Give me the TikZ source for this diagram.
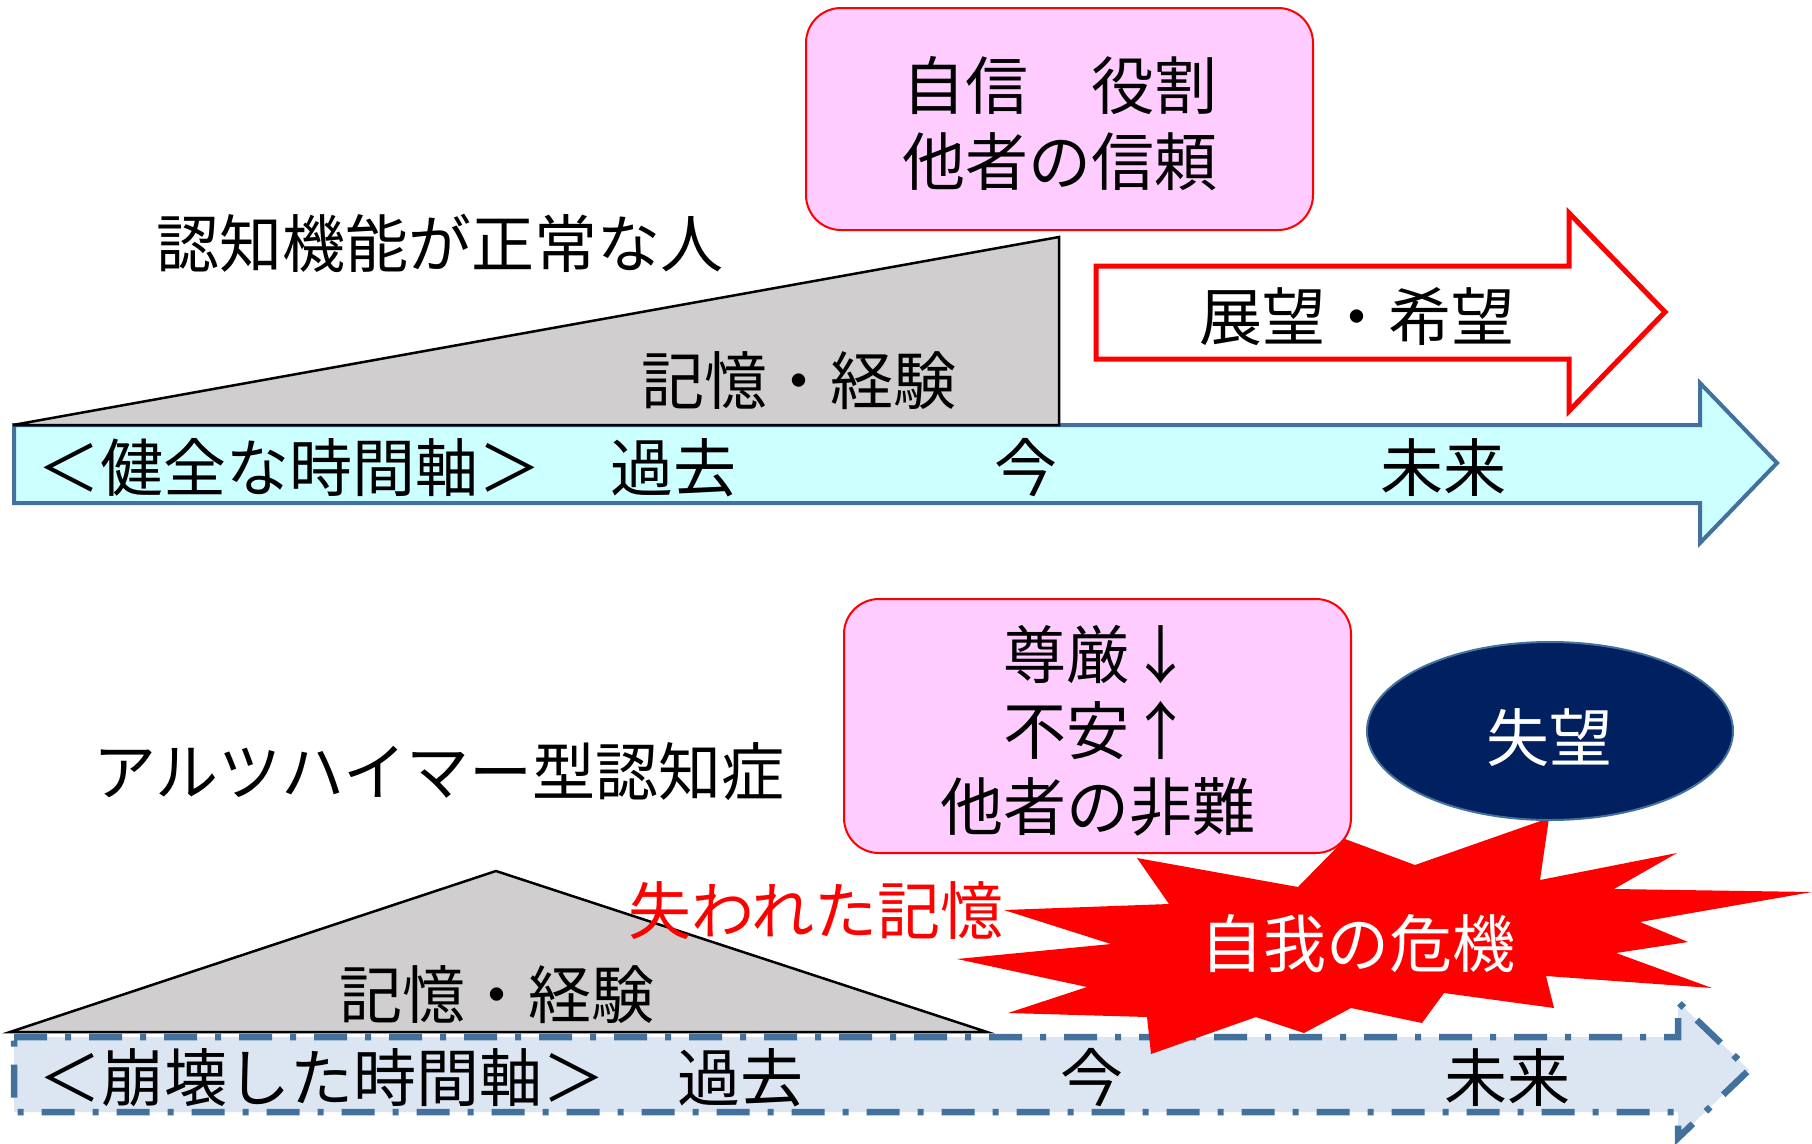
\documentclass[tikz,border=0pt]{standalone}
\usepackage{fontspec}
\setmainfont{Noto Sans CJK JP}
\usetikzlibrary{shapes.geometric}
\definecolor{axisblue}{HTML}{41719C}
\definecolor{cyanfill}{HTML}{CCFFFF}
\definecolor{pinkfill}{HTML}{FFCCFF}
\definecolor{trigray}{HTML}{D0CECE}
\definecolor{lightblue}{HTML}{DCE6F2}
\definecolor{navyfill}{HTML}{002060}
\begin{document}
\begin{tikzpicture}[x=1pt,y=-1pt,
  jp/.style={font=\fontsize{63}{76}\selectfont, inner sep=0pt, align=center},
  pinkbox/.style={draw=red, line width=2pt, fill=pinkfill, rounded corners=35pt, inner sep=0pt},
  memtri/.style={draw=black, line width=2.5pt, fill=trigray, line join=miter},
  goodaxis/.style={draw=axisblue, line width=4pt, fill=cyanfill, line join=miter},
  badaxis/.style={draw=axisblue, line width=6.5pt, fill=lightblue, dash pattern=on 33pt off 18pt on 6pt off 18pt},
  hopearrow/.style={draw=red, line width=5pt, fill=white, line join=miter},
  burst/.style={fill=red},
  despair/.style={ellipse, draw=axisblue, line width=2pt, fill=navyfill, inner sep=0pt}
]
\useasboundingbox (0,0) rectangle (1812,1143);
\fill[white] (0,0) rectangle (1812,1143);

% ---------- top: healthy ----------
\draw[goodaxis] (14,425) -- (1700,425) -- (1700,383) -- (1777,463) -- (1700,543) -- (1700,503) -- (14,503) -- cycle;
\draw[memtri] (13,425) -- (1059,237) -- (1059,425) -- cycle;
\node[pinkbox, minimum width=507pt, minimum height=222pt] (box1) at (1059.5,119) {};
\draw[hopearrow] (1096,266) -- (1569,266) -- (1569,213) -- (1665,312) -- (1569,411) -- (1569,359) -- (1096,359) -- cycle;

\node[jp] (title1) at (440,243) {認知機能が正常な人};
\node[jp] (box1text) at (1060,124) {自信　役割\\他者の信頼};
\node[jp] (hope) at (1357,317) {展望・希望};
\node[jp] (mem1) at (799,381) {記憶・経験};
\node[jp] (axis1) at (289,468) {＜健全な時間軸＞};
\node[jp] (past1) at (673,468) {過去};
\node[jp] (now1) at (1026,468) {今};
\node[jp] (future1) at (1443,468) {未来};

% ---------- bottom: Alzheimer ----------
\draw[badaxis] (14,1037) -- (1678,1037) -- (1678,1002) -- (1749,1070) -- (1678,1138) -- (1678,1112) -- (14,1112) -- cycle;
\draw[memtri] (10,1032) -- (496,871) -- (987,1032) -- cycle;
\fill[burst] (1549,818) -- (1540,880) -- (1677,853) -- (1614,889) -- (1812,892) -- (1640,922)
  -- (1688,942) -- (1616,953) -- (1712,988) -- (1546,976) -- (1554,1008) -- (1444,993)
  -- (1422,1023) -- (1351,1008) -- (1304,1033) -- (1256,1017) -- (1151,1054) -- (1147,1017)
  -- (1008,1013) -- (1087,987) -- (957,959) -- (1111,944) -- (1004,910) -- (1169,904)
  -- (1137,858) -- (1298,887) -- (1345,839) -- (1415,865) -- cycle;
\node[pinkbox, minimum width=507pt, minimum height=254pt] (box2) at (1097.5,726) {};
\node[despair, minimum width=366pt, minimum height=178pt] (loss) at (1550,731) {};

\node[jp] (title2) at (439,772) {アルツハイマー型認知症};
\node[jp] (box2text) at (1098,731) {尊厳↓\\不安↑\\他者の非難};
\node[jp, text=white] (losstext) at (1549,738) {失望};
\node[jp, text=white] (crisis) at (1358,944) {自我の危機};
\node[jp, text=red] (lost) at (816,911) {失われた記憶};
\node[jp] (mem2) at (497,995) {記憶・経験};
\node[jp] (axis2) at (322,1078) {＜崩壊した時間軸＞};
\node[jp] (past2) at (740,1078) {過去};
\node[jp] (now2) at (1092,1078) {今};
\node[jp] (future2) at (1507,1078) {未来};
\end{tikzpicture}
\end{document}
